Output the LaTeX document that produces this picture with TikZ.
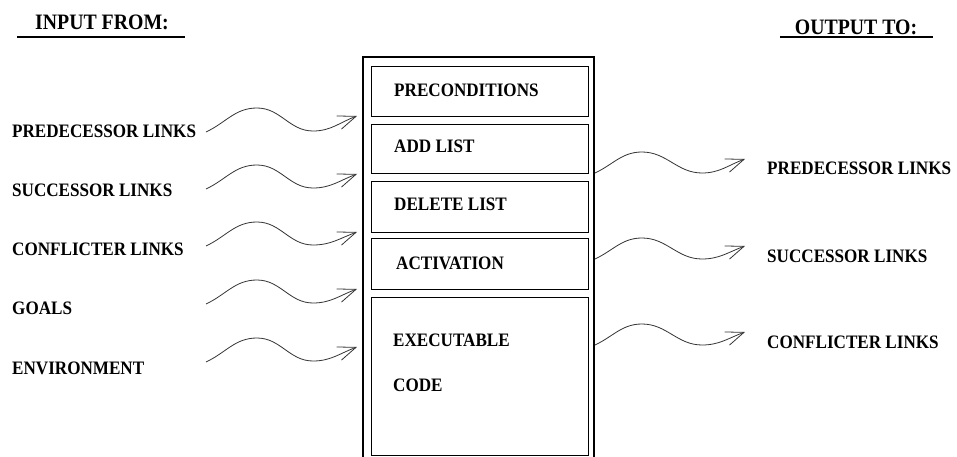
\documentclass[tikz,border=0pt]{standalone}
\usepackage{fontspec}
\setmainfont{Liberation Serif}[FakeStretch=0.9]
\usetikzlibrary{arrows.meta}

\tikzset{
  lbl/.style={font=\bfseries\fontsize{19}{19}\selectfont, inner sep=0pt, anchor=west},
  head/.style={font=\bfseries\fontsize{22}{22}\selectfont, inner sep=0pt},
  slot/.style={draw, line width=1.1pt, minimum width=217pt, inner sep=0pt, anchor=north west},
  wave/.style={draw=black!80, line width=0.8pt,
    -{Straight Barb[length=18pt,width=14pt,line width=0.8pt]}},
}

\begin{document}
\begin{tikzpicture}[x=1pt,y=-1pt]
\useasboundingbox (0,0) rectangle (957,457);
\clip (0,0) rectangle (957,457);

% headings
\node[head] (inhead) at (102,22) {INPUT FROM:};
\node[head] (outhead) at (856,27) {OUTPUT TO:};
\draw[line width=1.1pt] (17,37) -- (185,37);
\draw[line width=1.1pt] (780,37) -- (933,37);

% behaviour module: outer frame and its slots
\draw[line width=1.1pt] (363,470) -- (363,57) -- (594,57) -- (594,470);
\node[slot, minimum height=50pt]  (pre) at (371,66)  {};
\node[slot, minimum height=49pt]  (add) at (371,124) {};
\node[slot, minimum height=51pt]  (del) at (371,181) {};
\node[slot, minimum height=51pt]  (act) at (371,238) {};
\node[slot, minimum height=158pt] (exe) at (371,297) {};

\node[lbl] (tpre) at (394,90)  {PRECONDITIONS};
\node[lbl] (tadd) at (394,146) {ADD LIST};
\node[lbl] (tdel) at (394,204) {DELETE LIST};
\node[lbl] (tact) at (396,263) {ACTIVATION};
\node[lbl] (texe) at (393,340) {EXECUTABLE};
\node[lbl] (tcod) at (393,385) {CODE};

% inputs
\node[lbl] (i1) at (12,131) {PREDECESSOR LINKS};
\node[lbl] (i2) at (12,190) {SUCCESSOR LINKS};
\node[lbl] (i3) at (12,249) {CONFLICTER LINKS};
\node[lbl] (i4) at (12,308) {GOALS};
\node[lbl] (i5) at (12,368) {ENVIRONMENT};

% outputs
\node[lbl] (o1) at (767,168) {PREDECESSOR LINKS};
\node[lbl] (o2) at (767,256) {SUCCESSOR LINKS};
\node[lbl] (o3) at (767,342) {CONFLICTER LINKS};

% arrow end points
\coordinate (a1) at (206,132); \coordinate (b1) at (357,116);
\coordinate (a2) at (206,189); \coordinate (b2) at (357,174);
\coordinate (a3) at (206,246); \coordinate (b3) at (357,232);
\coordinate (a4) at (206,304); \coordinate (b4) at (357,289);
\coordinate (a5) at (206,362); \coordinate (b5) at (357,347);

\coordinate (c1) at (595,173); \coordinate (d1) at (745,159);
\coordinate (c2) at (595,259); \coordinate (d2) at (745,246);
\coordinate (c3) at (595,345); \coordinate (d3) at (745,332);

\foreach \s/\e in {a1/b1,a2/b2,a3/b3,a4/b4,a5/b5}{
  \draw[wave] (\s) to[out=25,in=180] ++(51,-24) to[out=0,in=180] ++(56,23)
    to[out=0,in=200] (\e);
}
\foreach \s/\e in {c1/d1,c2/d2,c3/d3}{
  \draw[wave] (\s) to[out=25,in=180] ++(47,-21) to[out=0,in=180] ++(60,21)
    to[out=0,in=200] (\e);
}
\end{tikzpicture}
\end{document}
